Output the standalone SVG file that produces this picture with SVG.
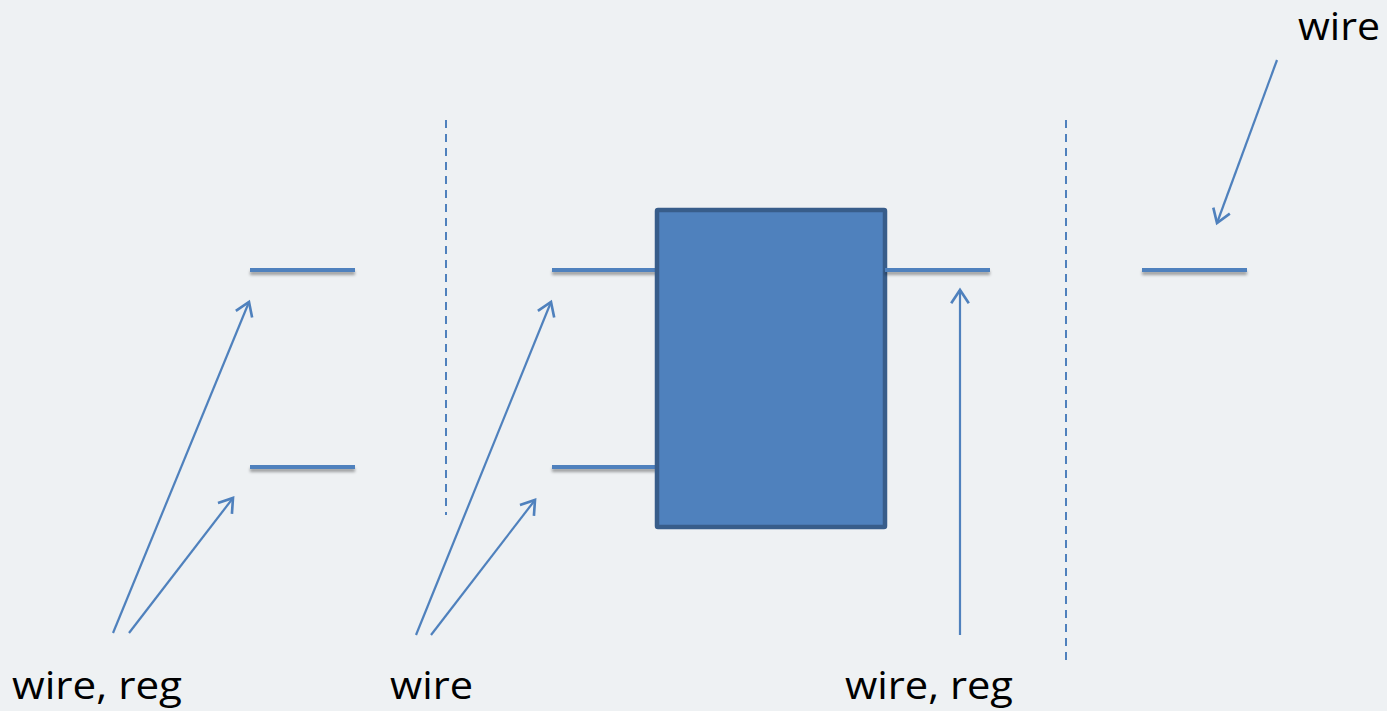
<svg xmlns="http://www.w3.org/2000/svg" width="1387" height="711" viewBox="0 0 1387 711">
  <defs>
    <filter id="shadow" filterUnits="userSpaceOnUse" x="0" y="0" width="1387" height="711">
      <feDropShadow dx="0" dy="3" stdDeviation="1.5" flood-color="#000" flood-opacity="0.35"/>
    </filter>
    <marker id="open" viewBox="0 0 20 20" refX="14" refY="10" markerWidth="22" markerHeight="22" markerUnits="userSpaceOnUse" orient="auto">
      <path d="M2,2 L14,10 L2,18" fill="none" stroke="#4F81BD" stroke-width="2.4"/>
    </marker>
    <style>
      .wire { stroke: #4F81BD; stroke-width: 4; fill: none; filter: url(#shadow); }
      .sep { stroke: #4F81BD; stroke-width: 2; stroke-dasharray: 8 6; fill: none; }
      .arrow { stroke: #4F81BD; stroke-width: 2.2; fill: none; marker-end: url(#open); }
      .label { font-family: "Open Sans", "Liberation Sans", sans-serif; font-size: 39px; fill: #000; }
    </style>
  </defs>

  <rect width="1387" height="711" fill="#EEF1F3"/>

  <g id="stage-separators">
    <line class="sep" x1="446" y1="120" x2="446" y2="515"/>
    <line class="sep" x1="1066" y1="120" x2="1066" y2="660"/>
  </g>

  <g id="inputs-left">
    <line class="wire" x1="250" y1="270" x2="355" y2="270"/>
    <line class="wire" x1="250" y1="467" x2="355" y2="467"/>
  </g>

  <g id="inputs-block">
    <line class="wire" x1="552" y1="270" x2="658" y2="270"/>
    <line class="wire" x1="552" y1="467" x2="658" y2="467"/>
  </g>

  <g id="block">
    <rect x="657" y="210" width="228" height="317" fill="#4F81BD" stroke="#385D8A" stroke-width="4.5" rx="1"/>
  </g>

  <g id="output-block">
    <line class="wire" x1="885" y1="270" x2="990" y2="270"/>
  </g>

  <g id="output-right">
    <line class="wire" x1="1142" y1="270" x2="1247" y2="270"/>
  </g>

  <g id="connectors">
    <line class="arrow" x1="113" y1="633" x2="249" y2="302"/>
    <line class="arrow" x1="129" y1="633" x2="233" y2="498"/>
    <line class="arrow" x1="416" y1="635" x2="551" y2="302"/>
    <line class="arrow" x1="431" y1="635" x2="535" y2="500"/>
    <line class="arrow" x1="960" y1="635" x2="960" y2="290"/>
    <line class="arrow" x1="1277" y1="60" x2="1217" y2="223"/>
  </g>

  <g id="labels">
    <text class="label" x="12" y="699" textLength="170" lengthAdjust="spacingAndGlyphs">wire, reg</text>
    <text class="label" x="390" y="699" textLength="83" lengthAdjust="spacingAndGlyphs">wire</text>
    <text class="label" x="845" y="699" textLength="168" lengthAdjust="spacingAndGlyphs">wire, reg</text>
    <text class="label" x="1298" y="40" textLength="82" lengthAdjust="spacingAndGlyphs">wire</text>
  </g>
</svg>
